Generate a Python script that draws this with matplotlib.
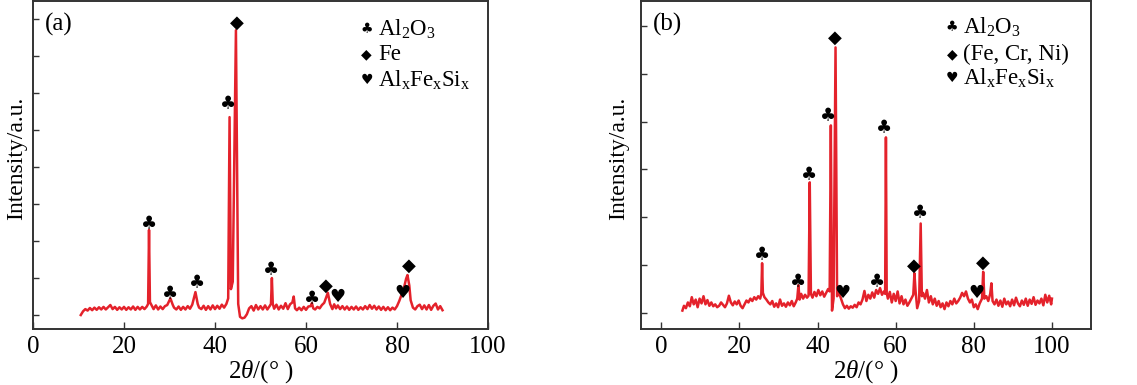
"""
XRD patterns of the two coatings, panels (a) and (b).
"""

import matplotlib
matplotlib.use("Agg")
import matplotlib.pyplot as plt

plt.rcParams["font.family"] = "Liberation Serif"
plt.rcParams["mathtext.fontset"] = "custom"
plt.rcParams["mathtext.rm"] = "Liberation Serif"
plt.rcParams["mathtext.it"] = "Liberation Serif:italic"

# ---------- Data ----------

# panel (a): 2theta (deg) and intensity (a.u.)
tth_a = [10.5, 11.0, 11.5, 12.0, 12.5, 13.0, 13.5, 14.0, 14.5, 15.0, 15.5, 16.0,
         16.5, 17.0, 17.5, 18.0, 18.5, 19.0, 19.5, 20.0, 20.5, 21.0, 21.5, 22.0,
         22.5, 23.0, 23.5, 24.0, 24.5, 25.0, 25.3, 25.5, 25.7, 26.0, 26.5, 27.0,
         27.5, 28.0, 28.5, 29.0, 29.5, 30.2, 30.7, 31.0, 31.5, 32.0, 32.5, 33.0,
         33.5, 34.0, 34.5, 35.0, 35.7, 36.2, 36.5, 37.0, 37.5, 38.0, 38.5, 39.0,
         39.5, 40.0, 40.5, 41.0, 41.5, 42.0, 42.5, 42.9, 43.2, 43.5, 43.9, 44.6,
         45.1, 45.5, 46.0, 46.5, 47.0, 47.5, 48.0, 48.5, 49.0, 49.5, 50.0, 50.5,
         51.0, 51.5, 52.0, 52.3, 52.5, 52.7, 53.0, 53.5, 54.0, 54.5, 55.0, 55.5,
         56.0, 56.5, 57.0, 57.3, 57.6, 58.0, 58.5, 59.0, 59.5, 60.0, 60.5, 61.0,
         61.3, 61.6, 62.0, 62.5, 63.0, 63.5, 64.0, 64.8, 65.3, 65.8, 66.2, 66.6,
         67.0, 67.5, 68.0, 68.5, 69.0, 69.5, 70.0, 70.5, 71.0, 71.5, 72.0, 72.5,
         73.0, 73.5, 74.0, 74.5, 75.0, 75.5, 76.0, 76.5, 77.0, 77.5, 78.0, 78.5,
         79.0, 79.5, 80.0, 80.5, 81.0, 81.5, 82.0, 82.3, 82.7, 83.0, 83.5, 84.0,
         84.5, 85.0, 85.5, 86.0, 86.5, 87.0, 87.5, 88.0, 88.5, 89.0, 89.5, 90.0]
int_a = [0.00, 0.10, 0.16, 0.12, 0.19, 0.13, 0.20, 0.14, 0.21, 0.15, 0.22, 0.15,
         0.21, 0.27, 0.16, 0.22, 0.14, 0.21, 0.15, 0.22, 0.14, 0.21, 0.15, 0.23,
         0.14, 0.22, 0.15, 0.22, 0.16, 0.23, 0.30, 2.30, 0.35, 0.28, 0.16, 0.26,
         0.15, 0.23, 0.16, 0.24, 0.27, 0.45, 0.28, 0.20, 0.15, 0.23, 0.14, 0.22,
         0.15, 0.24, 0.17, 0.28, 0.62, 0.30, 0.20, 0.16, 0.25, 0.14, 0.24, 0.15,
         0.26, 0.16, 0.25, 0.17, 0.28, 0.20, 0.30, 0.45, 5.35, 0.70, 0.90, 7.70,
         0.30, -0.05, -0.09, -0.07, 0.02, 0.18, 0.24, 0.12, 0.27, 0.15, 0.24, 0.15,
         0.26, 0.15, 0.24, 0.30, 1.00, 0.30, 0.17, 0.28, 0.15, 0.25, 0.17, 0.32,
         0.16, 0.29, 0.34, 0.50, 0.18, 0.13, 0.20, 0.13, 0.22, 0.14, 0.23, 0.24,
         0.32, 0.18, 0.15, 0.22, 0.18, 0.27, 0.33, 0.60, 0.30, 0.16, 0.29, 0.18,
         0.26, 0.16, 0.24, 0.15, 0.23, 0.14, 0.22, 0.15, 0.23, 0.14, 0.21, 0.15,
         0.24, 0.16, 0.27, 0.17, 0.25, 0.15, 0.23, 0.14, 0.22, 0.13, 0.21, 0.13,
         0.20, 0.15, 0.24, 0.38, 0.55, 0.72, 0.98, 1.08, 0.80, 0.40, 0.20, 0.15,
         0.24, 0.28, 0.16, 0.26, 0.15, 0.27, 0.14, 0.25, 0.31, 0.15, 0.24, 0.13]

# panel (b)
tth_b = [5.4, 5.8, 6.3, 6.8, 7.3, 7.8, 8.3, 8.8, 9.3, 9.8, 10.3, 10.8, 11.3,
         11.8, 12.3, 12.8, 13.3, 13.8, 14.3, 14.8, 15.3, 15.8, 16.3, 16.8, 17.3,
         17.8, 18.3, 18.8, 19.3, 19.8, 20.3, 20.8, 21.3, 21.8, 22.3, 22.8, 23.3,
         23.8, 24.3, 24.8, 25.3, 25.6, 25.8, 26.0, 26.4, 26.9, 27.4, 27.9, 28.4,
         28.9, 29.4, 29.9, 30.4, 30.9, 31.4, 31.9, 32.4, 32.9, 33.4, 33.9, 34.4,
         34.8, 35.1, 35.4, 35.8, 36.3, 36.8, 37.3, 37.7, 38.0, 38.3, 38.7, 39.2,
         39.7, 40.2, 40.7, 41.2, 41.7, 42.2, 42.7, 43.1, 43.4, 43.7, 44.1, 44.6,
         45.0, 45.5, 46.0, 46.5, 47.0, 47.5, 48.0, 48.5, 49.0, 49.5, 50.0, 50.5,
         51.0, 51.5, 52.0, 52.5, 53.0, 53.5, 54.0, 54.5, 55.0, 55.5, 56.0, 56.5,
         57.0, 57.3, 57.5, 57.7, 58.0, 58.5, 59.0, 59.5, 60.0, 60.5, 61.0, 61.5,
         62.0, 62.5, 63.0, 63.5, 64.0, 64.5, 64.8, 65.1, 65.5, 66.0, 66.4, 66.7,
         67.0, 67.5, 68.0, 68.5, 69.0, 69.5, 70.0, 70.5, 71.0, 71.5, 72.0, 72.5,
         73.0, 73.5, 74.0, 74.5, 75.0, 75.5, 76.0, 76.5, 77.0, 77.5, 78.0, 78.5,
         79.0, 79.5, 80.0, 80.5, 81.0, 81.5, 82.1, 82.4, 82.7, 83.2, 83.7, 84.2,
         84.5, 84.8, 85.3, 85.8, 86.3, 86.8, 87.3, 87.8, 88.3, 88.8, 89.3, 89.8,
         90.3, 90.8, 91.3, 91.8, 92.3, 92.8, 93.3, 93.8, 94.3, 94.8, 95.3, 95.8,
         96.3, 96.8, 97.3, 97.8, 98.3, 98.8, 99.3, 99.8, 100.0]
int_b = [0.05, 0.15, 0.10, 0.22, 0.14, 0.33, 0.18, 0.28, 0.12, 0.30, 0.20, 0.35,
         0.18, 0.27, 0.15, 0.22, 0.14, 0.18, 0.12, 0.15, 0.22, 0.17, 0.12, 0.20,
         0.36, 0.22, 0.16, 0.24, 0.18, 0.26, 0.15, 0.10, 0.18, 0.26, 0.22, 0.30,
         0.25, 0.33, 0.28, 0.35, 0.30, 0.40, 1.04, 0.42, 0.33, 0.28, 0.22, 0.18,
         0.25, 0.13, 0.20, 0.12, 0.28, 0.15, 0.20, 0.13, 0.22, 0.16, 0.25, 0.14,
         0.22, 0.30, 0.58, 0.28, 0.40, 0.30, 0.38, 0.32, 0.36, 2.73, 0.40, 0.32,
         0.44, 0.35, 0.48, 0.37, 0.45, 0.34, 0.42, 0.50, 0.45, 3.92, 0.05, 0.30,
         5.55, 0.35, 0.42, 0.30, 0.18, 0.10, 0.15, 0.09, 0.14, 0.11, 0.17, 0.12,
         0.22, 0.18, 0.28, 0.46, 0.25, 0.38, 0.30, 0.43, 0.32, 0.48, 0.40, 0.52,
         0.38, 0.45, 0.40, 3.67, 0.42, 0.30, 0.44, 0.22, 0.40, 0.25, 0.45, 0.20,
         0.35, 0.18, 0.28, 0.15, 0.22, 0.30, 0.38, 0.83, 0.45, 0.10, 0.25, 1.87,
         0.35, 0.42, 0.30, 0.48, 0.22, 0.35, 0.18, 0.30, 0.15, 0.25, 0.12, 0.20,
         0.08, 0.22, 0.14, 0.25, 0.18, 0.30, 0.20, 0.25, 0.32, 0.42, 0.35, 0.45,
         0.30, 0.22, 0.28, 0.12, 0.18, 0.08, 0.20, 0.30, 0.86, 0.30, 0.35, 0.25,
         0.40, 0.62, 0.25, 0.18, 0.28, 0.15, 0.26, 0.13, 0.30, 0.18, 0.24, 0.14,
         0.28, 0.16, 0.32, 0.20, 0.14, 0.26, 0.17, 0.30, 0.15, 0.28, 0.19, 0.33,
         0.17, 0.26, 0.20, 0.30, 0.16, 0.38, 0.22, 0.36, 0.18, 0.30]

# phase markers above peaks: position, height, phase
mark_x_a = [25.5, 30.2, 36.0, 42.9, 44.8, 52.4, 61.3, 64.4, 67.0, 81.2, 82.6]
mark_y_a = [2.45, 0.55, 0.85, 5.70, 7.90, 1.20, 0.42, 0.80, 0.48, 0.60, 1.32]
mark_p_a = ["club", "club", "club", "club", "dia", "club", "club", "dia",
            "heart", "heart", "dia"]

mark_x_b = [25.8, 35.1, 37.9, 42.7, 44.5, 46.5, 55.3, 57.1, 64.7, 66.3, 80.6, 82.4]
mark_y_b = [1.20, 0.65, 2.88, 4.10, 5.75, 0.42, 0.65, 3.85, 0.98, 2.08, 0.41, 1.04]
mark_p_b = ["club", "club", "club", "club", "dia", "heart", "club", "club",
            "dia", "club", "heart", "dia"]

legend_a = [r"Al$_\mathrm{2}$O$_\mathrm{3}$", "Fe",
            r"Al$_\mathrm{x}$Fe$_\mathrm{x}$Si$_\mathrm{x}$"]
legend_b = [r"Al$_\mathrm{2}$O$_\mathrm{3}$", "(Fe, Cr, Ni)",
            r"Al$_\mathrm{x}$Fe$_\mathrm{x}$Si$_\mathrm{x}$"]

SYMBOLS = {"club": "\u2663", "dia": "\u25c6", "heart": "\u2665"}
LINE_COLOR = "#e4222b"


# ---------- Plot ----------

def draw_panel(ax, tth, inten, mx, my, mp, legend, tag, xlim, ylim, nticks,
               leg_x, leg_y):
    ax.plot(tth, inten, color=LINE_COLOR, lw=1.8)

    for x, y, p in zip(mx, my, mp):
        ax.text(x, y, SYMBOLS[p], ha="center", va="center", fontsize=13,
                family="DejaVu Sans", color="black")

    # phase key, top right
    for i, (p, lab) in enumerate(zip(["club", "dia", "heart"], legend)):
        y = leg_y[i]
        ax.text(leg_x - 0.025, y, SYMBOLS[p], transform=ax.transAxes,
                ha="center", va="center", fontsize=10, family="DejaVu Sans")
        ax.text(leg_x, y, lab, transform=ax.transAxes, ha="left",
                va="center", fontsize=16.5)

    ax.text(0.026, 0.93, tag, transform=ax.transAxes, ha="left",
            va="center", fontsize=18)

    ax.set_xlim(*xlim)
    ax.set_ylim(*ylim)
    ax.set_xticks([0, 20, 40, 60, 80, 100])
    ax.set_yticks(range(nticks))
    ax.set_yticklabels([])
    ax.tick_params(direction="in", labelsize=18, color="#333333")
    ax.tick_params(axis="x", length=5, width=1.0, pad=5)
    ax.tick_params(axis="y", length=4, width=1.0)
    for s in ax.spines.values():
        s.set_linewidth(1.4)
        s.set_color("#333333")

    ax.set_xlabel(r"2$\mathit{\theta}$/(° )", fontsize=18)
    ax.xaxis.set_label_coords(0.5, -0.09)
    ax.set_ylabel("Intensity/a.u.", fontsize=17)


def main():
    fig = plt.figure(figsize=(11.37, 3.85), dpi=100)

    ax_a = fig.add_axes([33 / 1137, 56 / 385, 455 / 1137, 328 / 385])
    draw_panel(ax_a, tth_a, int_a, mark_x_a, mark_y_a, mark_p_a, legend_a,
               "(a)", (0, 100), (-0.378, 8.49), 9, 0.758,
               [0.915, 0.838, 0.759])
    ax_a.yaxis.set_label_coords(-0.0135, 0.52)

    ax_b = fig.add_axes([641 / 1137, 56 / 385, 450 / 1137, 328 / 385])
    draw_panel(ax_b, tth_b, int_b, mark_x_b, mark_y_b, mark_p_b, legend_b,
               "(b)", (-5.2, 110), (-0.335, 6.52), 7, 0.716,
               [0.921, 0.838, 0.765])
    ax_b.yaxis.set_label_coords(-0.026, 0.52)

    fig.savefig("out.png", dpi=100)


if __name__ == "__main__":
    main()
